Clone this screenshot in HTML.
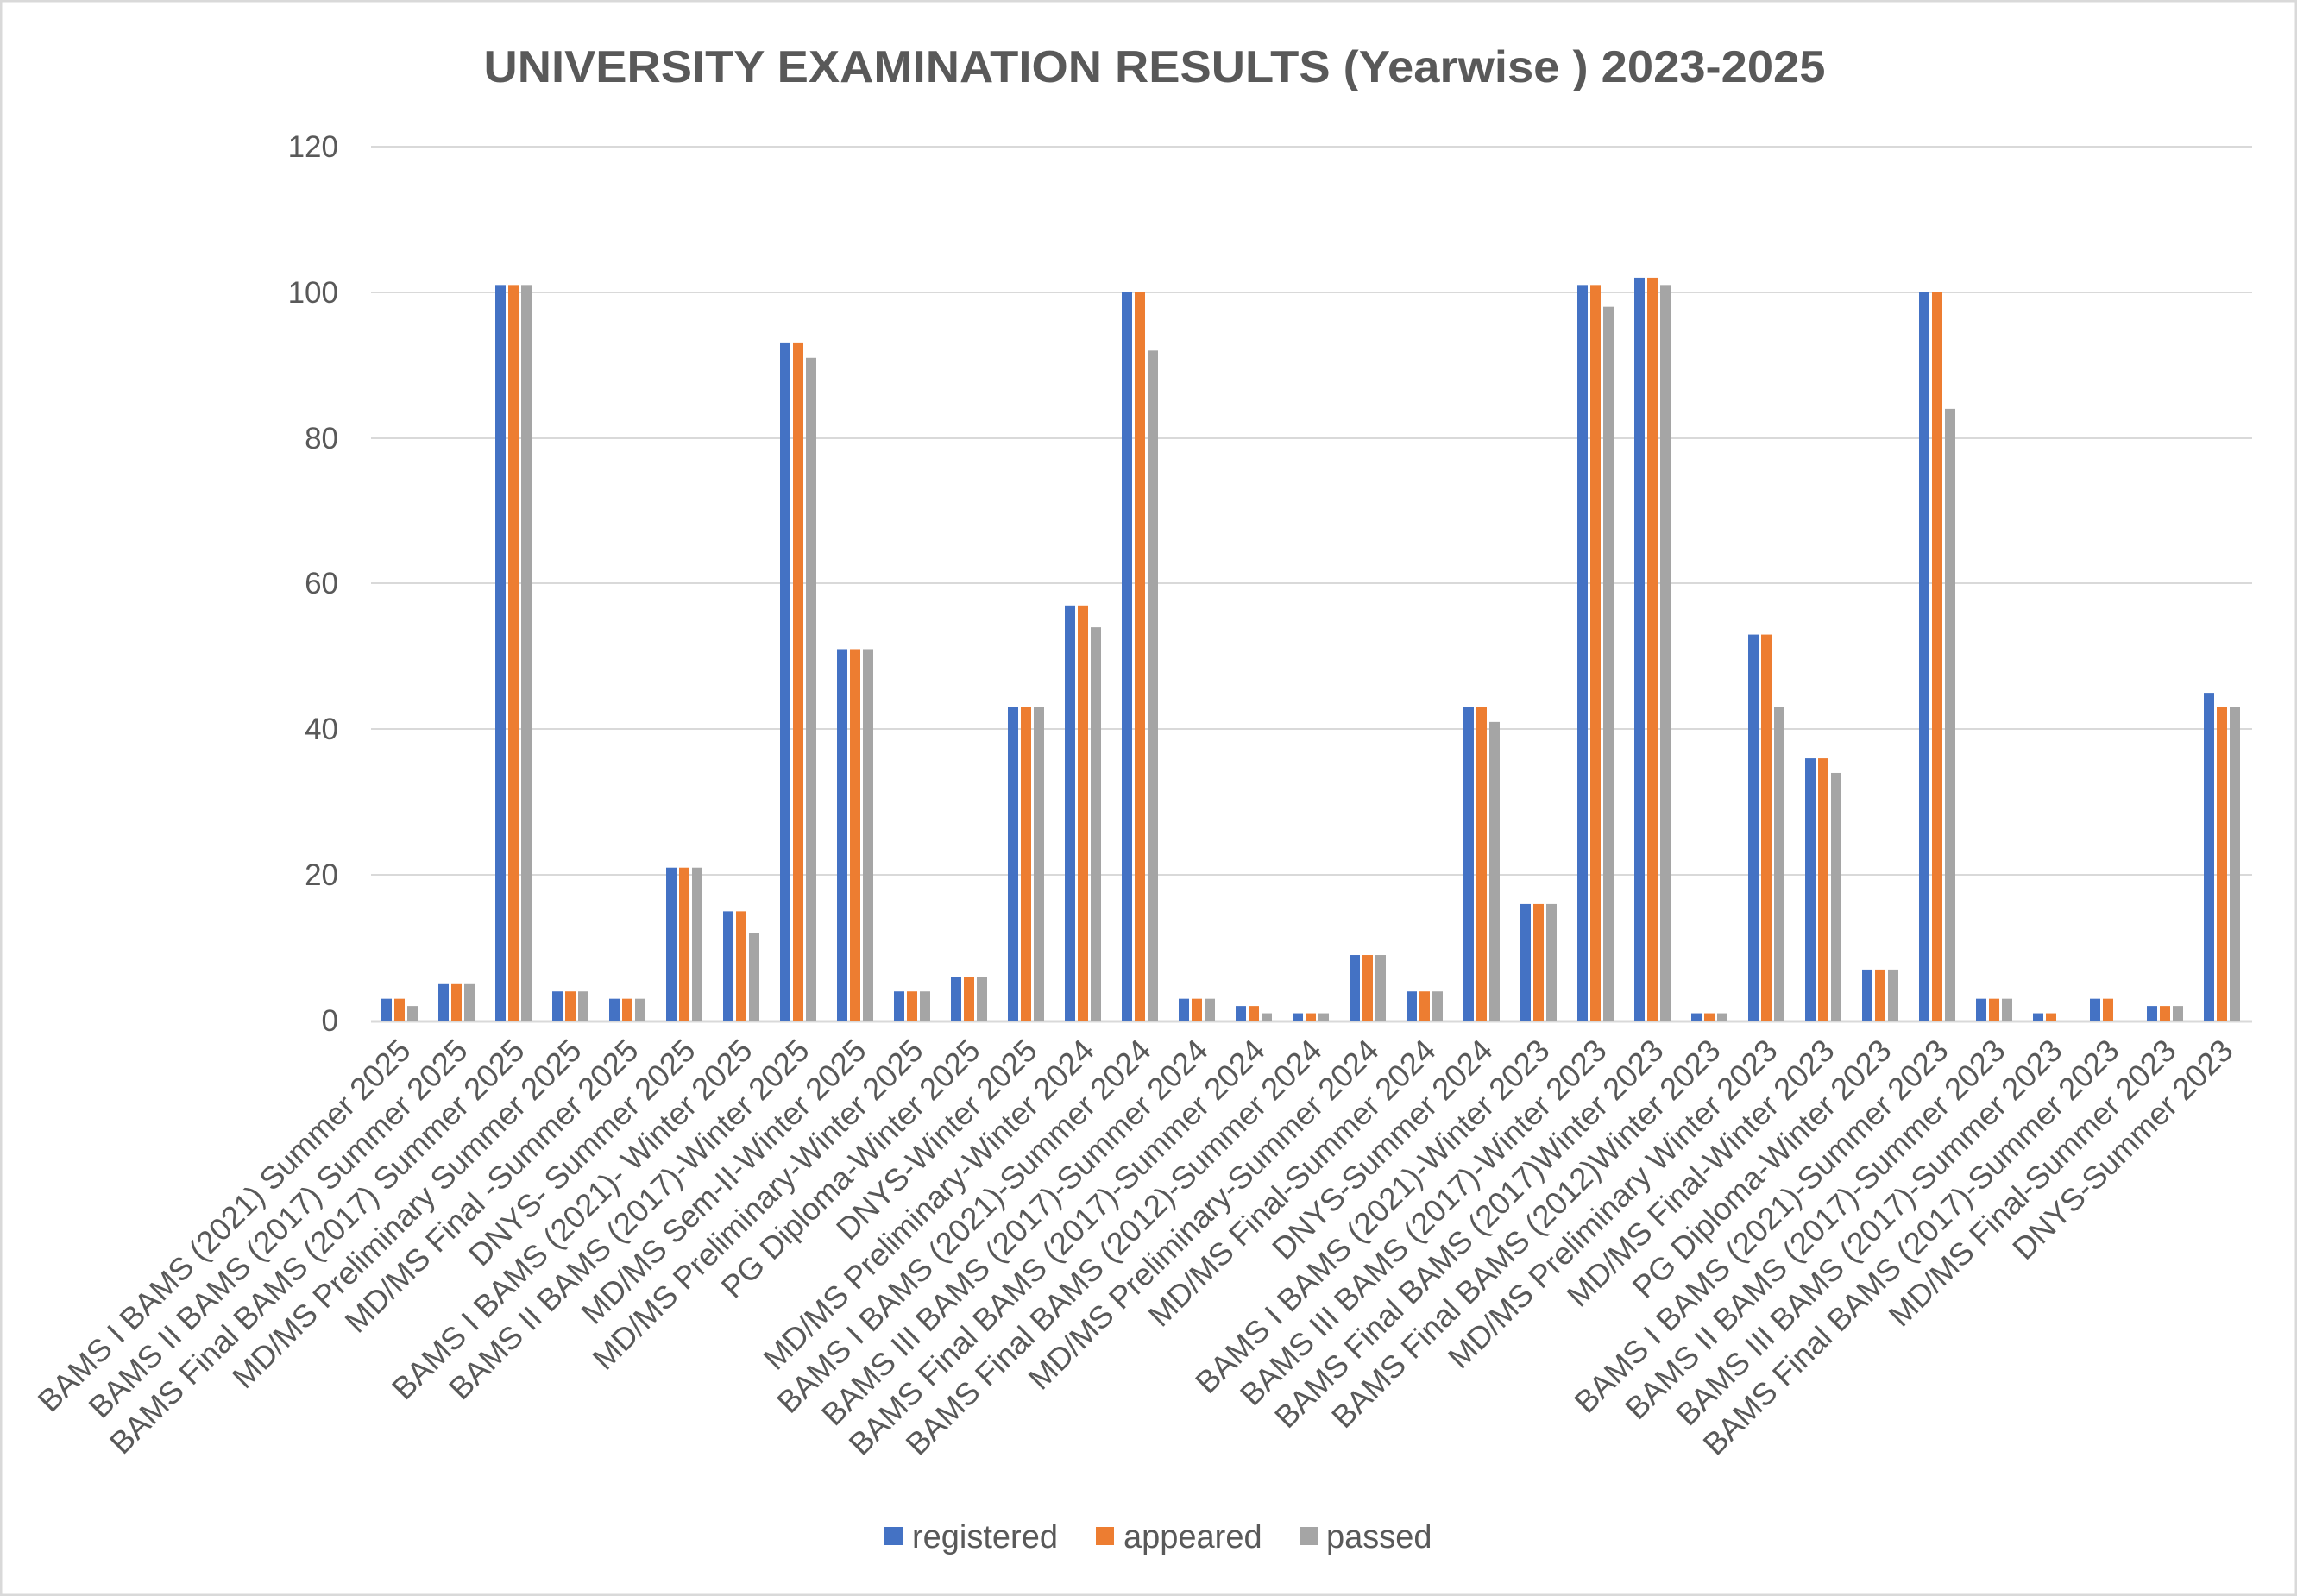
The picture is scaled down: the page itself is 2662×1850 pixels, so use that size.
<!DOCTYPE html>
<html><head><meta charset="utf-8"><style>
html,body{margin:0;padding:0;background:#fff}
svg{display:block}
text{font-family:"Liberation Sans",sans-serif;fill:#595959}
</style></head><body>
<svg id="s" width="2662" height="1850" viewBox="0 0 2662 1850" xmlns="http://www.w3.org/2000/svg">
<rect x="1" y="1" width="2660" height="1848" fill="#fff" stroke="#d9d9d9" stroke-width="3"/>
<text x="1338" y="95" text-anchor="middle" font-size="52" font-weight="bold" textLength="1555" lengthAdjust="spacingAndGlyphs">UNIVERSITY EXAMINATION RESULTS (Yearwise ) 2023-2025</text>
<g stroke="#d9d9d9" stroke-width="2">
<line x1="430" x2="2610" y1="170" y2="170"/>
<line x1="430" x2="2610" y1="339" y2="339"/>
<line x1="430" x2="2610" y1="508" y2="508"/>
<line x1="430" x2="2610" y1="676" y2="676"/>
<line x1="430" x2="2610" y1="845" y2="845"/>
<line x1="430" x2="2610" y1="1014" y2="1014"/>
<line x1="430" x2="2610" y1="1184" y2="1184" stroke-width="3"/>
</g>
<g font-size="35" text-anchor="end">
<text x="392" y="182">120</text>
<text x="392" y="351">100</text>
<text x="392" y="520">80</text>
<text x="392" y="688">60</text>
<text x="392" y="857">40</text>
<text x="392" y="1026">20</text>
<text x="392" y="1195">0</text>
</g>
<g id="bars"></g>
<g font-size="36.5" text-anchor="end">
<text transform="translate(478,1220) rotate(-45)">BAMS I BAMS (2021) Summer 2025</text>
<text transform="translate(544,1220) rotate(-45)">BAMS II BAMS (2017) Summer 2025</text>
<text transform="translate(610,1220) rotate(-45)">BAMS Final BAMS (2017) Summer 2025</text>
<text transform="translate(676,1220) rotate(-45)">MD/MS Preliminary Summer 2025</text>
<text transform="translate(742,1220) rotate(-45)">MD/MS Final -Summer 2025</text>
<text transform="translate(808,1220) rotate(-45)">DNYS- Summer 2025</text>
<text transform="translate(874,1220) rotate(-45)">BAMS I BAMS (2021)- Winter 2025</text>
<text transform="translate(940,1220) rotate(-45)">BAMS II BAMS (2017)-Winter 2025</text>
<text transform="translate(1006,1220) rotate(-45)">MD/MS Sem-II-Winter 2025</text>
<text transform="translate(1072,1220) rotate(-45)">MD/MS Preliminary-Winter 2025</text>
<text transform="translate(1138,1220) rotate(-45)">PG Diploma-Winter 2025</text>
<text transform="translate(1204,1220) rotate(-45)">DNYS-Winter 2025</text>
<text transform="translate(1270,1220) rotate(-45)">MD/MS Preliminary-Winter 2024</text>
<text transform="translate(1336,1220) rotate(-45)">BAMS I BAMS (2021)-Summer 2024</text>
<text transform="translate(1402,1220) rotate(-45)">BAMS III BAMS (2017)-Summer 2024</text>
<text transform="translate(1468,1220) rotate(-45)">BAMS Final BAMS (2017)-Summer 2024</text>
<text transform="translate(1534,1220) rotate(-45)">BAMS Final BAMS (2012)-Summer 2024</text>
<text transform="translate(1600,1220) rotate(-45)">MD/MS Preliminary-Summer 2024</text>
<text transform="translate(1666,1220) rotate(-45)">MD/MS Final-Summer 2024</text>
<text transform="translate(1732,1220) rotate(-45)">DNYS-Summer 2024</text>
<text transform="translate(1798,1220) rotate(-45)">BAMS I BAMS (2021)-Winter 2023</text>
<text transform="translate(1864,1220) rotate(-45)">BAMS III BAMS (2017)-Winter 2023</text>
<text transform="translate(1930,1220) rotate(-45)">BAMS Final BAMS (2017)Winter 2023</text>
<text transform="translate(1996,1220) rotate(-45)">BAMS Final BAMS (2012)Winter 2023</text>
<text transform="translate(2062,1220) rotate(-45)">MD/MS Preliminary Winter 2023</text>
<text transform="translate(2128,1220) rotate(-45)">MD/MS Final-Winter 2023</text>
<text transform="translate(2194,1220) rotate(-45)">PG Diploma-Winter 2023</text>
<text transform="translate(2260,1220) rotate(-45)">BAMS I BAMS (2021)-Summer 2023</text>
<text transform="translate(2326,1220) rotate(-45)">BAMS II BAMS (2017)-Summer 2023</text>
<text transform="translate(2392,1220) rotate(-45)">BAMS III BAMS (2017)-Summer 2023</text>
<text transform="translate(2458,1220) rotate(-45)">BAMS Final BAMS (2017)-Summer 2023</text>
<text transform="translate(2524,1220) rotate(-45)">MD/MS Final-Summer 2023</text>
<text transform="translate(2590,1220) rotate(-45)">DNYS-Summer 2023</text>
</g>
<g font-size="38">
<rect x="1025" y="1770" width="21" height="21" fill="#4472c4"/>
<text x="1057" y="1794">registered</text>
<rect x="1270" y="1770" width="21" height="21" fill="#ed7d31"/>
<text x="1302" y="1794">appeared</text>
<rect x="1506" y="1770" width="21" height="21" fill="#a5a5a5"/>
<text x="1537" y="1794">passed</text>
</g>
</svg>
<script>
var d=[[3,3,2],[5,5,5],[101,101,101],[4,4,4],[3,3,3],[21,21,21],[15,15,12],[93,93,91],[51,51,51],[4,4,4],[6,6,6],[43,43,43],[57,57,54],[100,100,92],[3,3,3],[2,2,1],[1,1,1],[9,9,9],[4,4,4],[43,43,41],[16,16,16],[101,101,98],[102,102,101],[1,1,1],[53,53,43],[36,36,34],[7,7,7],[100,100,84],[3,3,3],[1,1,0],[3,3,0],[2,2,2],[45,43,43]];
var c=["#4472c4","#ed7d31","#a5a5a5"],g=document.getElementById("bars"),h="";
for(var i=0;i<d.length;i++){var cx=463+66*i;for(var k=0;k<3;k++){var v=d[i][k];if(!v)continue;var hh=v*8.442;h+='<rect x="'+(cx-21+k*15)+'" y="'+(1183-hh)+'" width="12" height="'+hh+'" fill="'+c[k]+'"/>';}}
g.innerHTML=h;
</script>
</body></html>
